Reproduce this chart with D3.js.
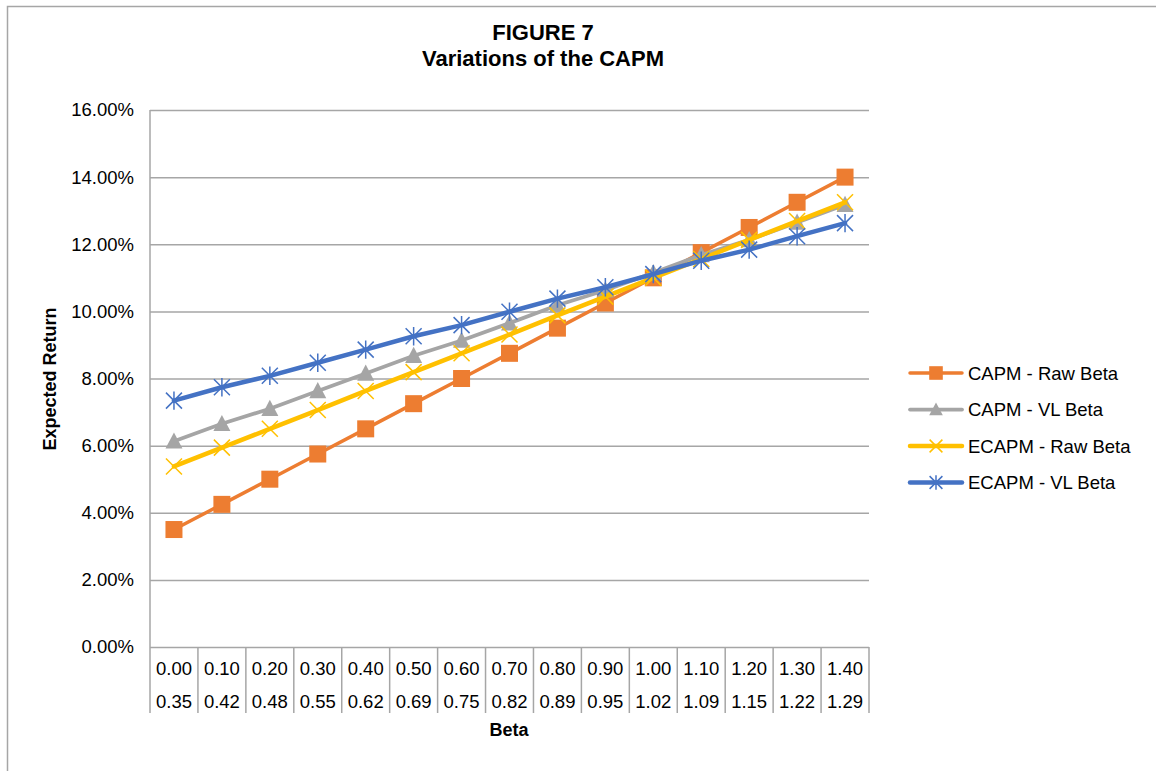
<!DOCTYPE html>
<html>
<head>
<meta charset="utf-8">
<script src="https://cdn.jsdelivr.net/npm/d3@7"></script>
<style>
  html, body { margin: 0; padding: 0; background: #fff; }
  svg { display: block; font-family: "Liberation Sans", Arial, sans-serif; }
</style>
</head>
<body>
<svg id="chart" width="1156" height="771"></svg>
<script>
// Category labels: raw beta (row 1) and Value Line adjusted beta (row 2)
const rawBeta = ["0.00","0.10","0.20","0.30","0.40","0.50","0.60","0.70","0.80","0.90","1.00","1.10","1.20","1.30","1.40"];
const vlBeta  = ["0.35","0.42","0.48","0.55","0.62","0.69","0.75","0.82","0.89","0.95","1.02","1.09","1.15","1.22","1.29"];

// Expected returns (%)
const capmRaw  = [3.50, 4.25, 5.00, 5.75, 6.50, 7.25, 8.00, 8.75, 9.50, 10.25, 11.00, 11.75, 12.50, 13.25, 14.00];
const capmVL   = [6.13, 6.65, 7.10, 7.63, 8.15, 8.68, 9.13, 9.65, 10.18, 10.63, 11.15, 11.68, 12.13, 12.65, 13.18];
const ecapmRaw = [5.38, 5.94, 6.50, 7.06, 7.63, 8.19, 8.75, 9.31, 9.88, 10.44, 11.00, 11.56, 12.13, 12.69, 13.25];
const ecapmVL  = [7.34, 7.74, 8.08, 8.47, 8.86, 9.26, 9.59, 9.99, 10.38, 10.72, 11.11, 11.51, 11.84, 12.24, 12.63];

const yTicks = [0, 2, 4, 6, 8, 10, 12, 14, 16];

const series = [
  { name: "CAPM - Raw Beta",  values: capmRaw,  color: "#ED7D31", width: 3.5, marker: "square" },
  { name: "CAPM - VL Beta",   values: capmVL,   color: "#A5A5A5", width: 3.75, marker: "triangle" },
  { name: "ECAPM - Raw Beta", values: ecapmRaw, color: "#FFC000", width: 4.5, marker: "x" },
  { name: "ECAPM - VL Beta",  values: ecapmVL,  color: "#4472C4", width: 4.5, marker: "star" }
];

const svg = d3.select("#chart");
const plot = { left: 150, right: 869, top: 110, bottom: 647 };
const gridColor = "#a6a6a6";
const labelSize = 18.5;

// Outer chart frame
svg.append("rect")
  .attr("x", 7.5).attr("y", 6.5)
  .attr("width", 1200).attr("height", 800)
  .attr("fill", "none").attr("stroke", "#a6a6a6").attr("stroke-width", 1.5);

// Scales
const x = d3.scaleBand().domain(d3.range(rawBeta.length)).range([plot.left, plot.right]).padding(0);
const y = d3.scaleLinear().domain([0, 16]).range([plot.bottom, plot.top]);
const cx = i => x(i) + x.bandwidth() / 2;

// Title
svg.append("text").attr("x", 543).attr("y", 40)
  .attr("text-anchor", "middle").attr("font-size", 22).attr("font-weight", "bold")
  .text("FIGURE 7");
svg.append("text").attr("x", 543).attr("y", 66)
  .attr("text-anchor", "middle").attr("font-size", 22).attr("font-weight", "bold")
  .text("Variations of the CAPM");

// Horizontal gridlines and y-axis labels
const yAxis = d3.axisLeft(y).tickValues(yTicks)
  .tickFormat(d => d3.format(".2f")(d) + "%")
  .tickSize(-(plot.right - plot.left)).tickPadding(16);
const gy = svg.append("g").attr("transform", `translate(${plot.left},0)`).call(yAxis);
gy.select(".domain").remove();
gy.selectAll(".tick line").attr("stroke", gridColor).attr("stroke-width", 1.5);
gy.selectAll(".tick text").attr("font-size", labelSize).attr("fill", "#000")
  .attr("font-family", "Liberation Sans, Arial, sans-serif");

// Left vertical axis line extending through the category table
const tableBottom = 713;
svg.append("line")
  .attr("x1", plot.left).attr("x2", plot.left)
  .attr("y1", plot.top).attr("y2", tableBottom)
  .attr("stroke", gridColor).attr("stroke-width", 1.5);

// Category table separators
svg.append("g").selectAll("line")
  .data(d3.range(1, rawBeta.length + 1))
  .join("line")
  .attr("x1", i => x(i - 1) + x.bandwidth()).attr("x2", i => x(i - 1) + x.bandwidth())
  .attr("y1", plot.bottom).attr("y2", tableBottom)
  .attr("stroke", gridColor).attr("stroke-width", 1.5);

// Category labels
svg.append("g").selectAll("text")
  .data(rawBeta).join("text")
  .attr("x", (d, i) => cx(i)).attr("y", 675)
  .attr("text-anchor", "middle").attr("font-size", labelSize).text(d => d);
svg.append("g").selectAll("text")
  .data(vlBeta).join("text")
  .attr("x", (d, i) => cx(i)).attr("y", 708)
  .attr("text-anchor", "middle").attr("font-size", labelSize).text(d => d);

// Axis titles
svg.append("text").attr("x", 509).attr("y", 736)
  .attr("text-anchor", "middle").attr("font-size", 18).attr("font-weight", "bold")
  .text("Beta");
svg.append("text")
  .attr("transform", "translate(56,379) rotate(-90)")
  .attr("text-anchor", "middle").attr("font-size", 18).attr("font-weight", "bold")
  .text("Expected Return");

// Marker drawing
function drawMarker(g, type, color, size) {
  if (type === "square") {
    g.append("rect").attr("x", -size / 2).attr("y", -size / 2)
      .attr("width", size).attr("height", size).attr("fill", color);
  } else if (type === "triangle") {
    const h = size * 0.95;
    g.append("path")
      .attr("d", `M0,${-h * 0.55}L${size / 2},${h * 0.45}L${-size / 2},${h * 0.45}Z`)
      .attr("fill", color);
  } else if (type === "x") {
    const s = size / 2;
    g.append("path").attr("d", `M${-s},${-s}L${s},${s}M${-s},${s}L${s},${-s}`)
      .attr("stroke", color).attr("stroke-width", 1.5).attr("fill", "none");
  } else if (type === "star") {
    const s = size / 2;
    g.append("path").attr("d", `M${-s},${-s}L${s},${s}M${-s},${s}L${s},${-s}M0,${-s * 1.15}L0,${s * 1.15}`)
      .attr("stroke", color).attr("stroke-width", 1.5).attr("fill", "none");
  }
}

const markerSize = { square: 17, triangle: 17, x: 16, star: 16 };

// Series lines and markers
const line = d3.line().x((d, i) => cx(i)).y(d => y(d));
series.forEach(s => {
  const g = svg.append("g");
  g.append("path").datum(s.values)
    .attr("d", line).attr("fill", "none")
    .attr("stroke", s.color).attr("stroke-width", s.width)
    .attr("stroke-linejoin", "round").attr("stroke-linecap", "round");
  s.values.forEach((v, i) => {
    const m = g.append("g").attr("transform", `translate(${cx(i)},${y(v)})`);
    drawMarker(m, s.marker, s.color, markerSize[s.marker]);
  });
});

// Legend
const legend = svg.append("g");
series.forEach((s, k) => {
  const ly = 373 + k * 36.5;
  const row = legend.append("g");
  row.append("line").attr("x1", 910).attr("x2", 962).attr("y1", ly).attr("y2", ly)
    .attr("stroke", s.color).attr("stroke-width", s.width).attr("stroke-linecap", "round");
  const m = row.append("g").attr("transform", `translate(936,${ly})`);
  drawMarker(m, s.marker, s.color, markerSize[s.marker] * 0.8);
  row.append("text").attr("x", 968).attr("y", ly + 6.5)
    .attr("font-size", labelSize).text(s.name);
});
</script>
</body>
</html>
